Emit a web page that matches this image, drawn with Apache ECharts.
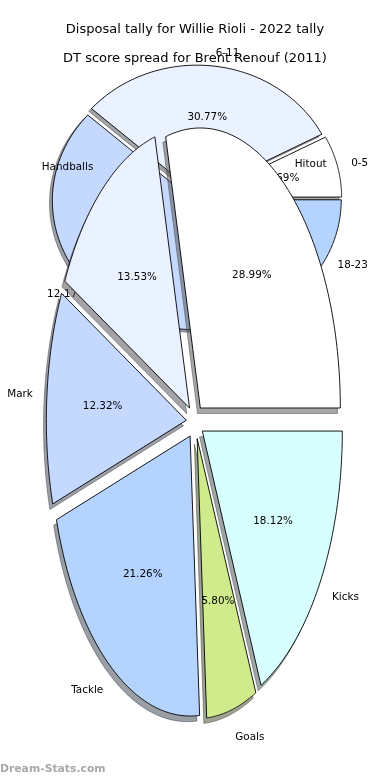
<!DOCTYPE html>
<html><head><meta charset="utf-8">
<script src="https://cdn.jsdelivr.net/npm/echarts@6/dist/echarts.min.js"></script>
<style>html,body{margin:0;padding:0;background:#fff}#c{width:390px;height:780px}</style>
</head><body><div id="c"></div>
<script>
// ---- data ----
const bigTitle = 'Disposal tally for Willie Rioli - 2022 tally';
const bigCategories = ['Kicks', 'Goals', 'Tackle', 'Mark', 'Handballs', 'Hitout'];
const bigValues = [18.12, 5.80, 21.26, 12.32, 13.53, 28.99];
const bigColors = ['#d8ffff', '#d0eb8c', '#b4d4ff', '#c5d9ff', '#eaf1ff', '#ffffff'];

const smallTitle = 'DT score spread for Brent Renouf (2011)';
const smallCategories = ['0-5', '6-11', '12-17', '18-23'];
const smallValues = [1, 4, 6, 2];
const smallColors = ['#ffffff', '#eaf1ff', '#c5d9ff', '#b4d4ff'];

const watermark = 'Dream-Stats.com';

// ---- layout (styles only) ----
const FONT = '"DejaVu Sans", sans-serif';
const bigGeo = {cx: 195, cy: 421.7, a: 140, b: 280, explode: 0.062, clockwise: true};
const smallGeo = {cx: 196.5, cy: 198, a: 141, b: 129, explode: 0.03, clockwise: false};

function hexRgb(h) {
  return [parseInt(h.slice(1, 3), 16), parseInt(h.slice(3, 5), 16), parseInt(h.slice(5, 7), 16)];
}

function pieSeries(values, names, colors, gridIndex, geo, zBase, percentFmt) {
  const total = values.reduce((s, v) => s + v, 0);
  const starts = [];
  let acc = 0;
  values.forEach(v => { starts.push(acc); acc += v; });
  const dir = geo.clockwise ? -1 : 1;
  function angles(i, v) {
    const t1 = dir * starts[i] / total * 2 * Math.PI;
    const t2 = dir * (starts[i] + v) / total * 2 * Math.PI;
    return [t1, t2, (t1 + t2) / 2];
  }
  function wedgePts(api, i, v, ox, oy) {
    const [t1, t2, m] = angles(i, v);
    const ex = geo.explode * Math.cos(m), ey = geo.explode * Math.sin(m);
    const pts = [api.coord([ex + ox, ey + oy])];
    const n = 90;
    for (let k = 0; k <= n; k++) {
      const t = t1 + (t2 - t1) * k / n;
      pts.push(api.coord([ex + ox + Math.cos(t), ey + oy + Math.sin(t)]));
    }
    return pts;
  }
  const data = values.map((v, i) => [i, v]);
  const common = {type: 'custom', coordinateSystem: 'cartesian2d', xAxisIndex: gridIndex, yAxisIndex: gridIndex, silent: true, animation: false, clip: false, data: data};
  const shadow = Object.assign({}, common, {
    z: zBase,
    renderItem: (params, api) => {
      const i = api.value(0), v = api.value(1);
      const c = hexRgb(colors[i]).map(x => Math.round(x * 0.3));
      const col = 'rgba(' + c.join(',') + ',0.5)';
      return {type: 'polygon', shape: {points: wedgePts(api, i, v, -0.02, -0.02)},
        style: {fill: col, stroke: col, lineWidth: 1}};
    }
  });
  const wedges = Object.assign({}, common, {
    z: zBase + 1,
    renderItem: (params, api) => {
      const i = api.value(0), v = api.value(1);
      return {type: 'polygon', shape: {points: wedgePts(api, i, v, 0, 0)},
        style: {fill: colors[i], stroke: '#000', lineWidth: 0.9}};
    }
  });
  const labels = Object.assign({}, common, {
    z: zBase + 2,
    renderItem: (params, api) => {
      const i = api.value(0), v = api.value(1);
      const m = angles(i, v)[2];
      const c = Math.cos(m), s = Math.sin(m);
      const pPct = api.coord([(0.6 + geo.explode) * c, (0.6 + geo.explode) * s]);
      const pLab = api.coord([(1.1 + geo.explode) * c, (1.1 + geo.explode) * s]);
      return {type: 'group', children: [
        {type: 'text', x: pPct[0], y: pPct[1], style: {text: percentFmt(v, total), fill: '#000', font: '10.4px ' + FONT, align: 'center', verticalAlign: 'middle'}},
        {type: 'text', x: pLab[0], y: pLab[1], style: {text: names[i], fill: '#000', font: '10.4px ' + FONT, align: c >= 0 ? 'left' : 'right', verticalAlign: 'middle'}}
      ]};
    }
  });
  return [shadow, wedges, labels];
}

function gridFor(geo) {
  return {left: geo.cx - geo.a, top: geo.cy - geo.b, width: 2 * geo.a, height: 2 * geo.b, show: false, containLabel: false};
}
function axis(gi) {
  return {type: 'value', gridIndex: gi, min: -1, max: 1, show: false, splitLine: {show: false}};
}

const pctFmt = (v, total) => (v / total * 100).toFixed(2) + '%';
const valFmt = (v) => v.toFixed(2) + '%';

const chart = echarts.init(document.getElementById('c'), null, {renderer: 'canvas'});
chart.setOption({
  backgroundColor: '#fff',
  animation: false,
  title: [
    {text: bigTitle, left: 'center', top: 23.5, padding: 0, textStyle: {fontFamily: FONT, fontSize: 13, fontWeight: 'normal', color: '#000'}},
    {text: smallTitle, left: 'center', top: 52, padding: 0, textStyle: {fontFamily: FONT, fontSize: 13, fontWeight: 'normal', color: '#000'}},
    {text: watermark, left: 0, top: 764, padding: 0, textStyle: {fontFamily: FONT, fontSize: 10.8, fontWeight: 'bold', color: '#a8a8a8'}}
  ],
  grid: [gridFor(smallGeo), gridFor(bigGeo)],
  xAxis: [axis(0), axis(1)],
  yAxis: [axis(0), axis(1)],
  series: [
    ...pieSeries(smallValues, smallCategories, smallColors, 0, smallGeo, 1, pctFmt),
    ...pieSeries(bigValues, bigCategories, bigColors, 1, bigGeo, 4, valFmt)
  ]
});
</script></body></html>
